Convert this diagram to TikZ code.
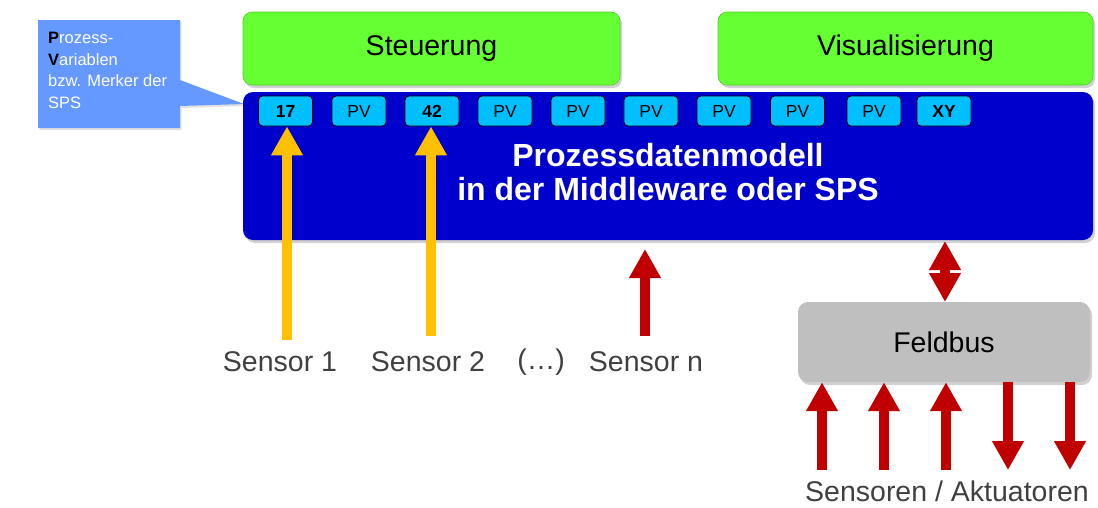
\documentclass[tikz,border=0pt]{standalone}
\usepackage{fontspec}
\setmainfont{Liberation Sans}
\usetikzlibrary{arrows.meta,shadows}
\definecolor{cgreen}{HTML}{66FF33}
\definecolor{cblue}{HTML}{0000CC}
\definecolor{ccyan}{HTML}{00BFFF}
\definecolor{cgray}{HTML}{BFBFBF}
\definecolor{ccall}{HTML}{6699FF}
\definecolor{cred}{HTML}{C00000}
\definecolor{cyel}{HTML}{FFC000}
\definecolor{ctext}{HTML}{404040}
\tikzset{
  shad/.style={drop shadow={shadow xshift=2pt,shadow yshift=-3pt,opacity=0.3,fill=black!60}},
  greenbox/.style={fill=cgreen,draw=cgreen!80!black,line width=0.6pt,rounded corners=9pt,minimum width=377pt,minimum height=73pt,inner sep=0pt,font=\fontsize{28.5}{30}\selectfont,shad},
  pvbox/.style={fill=ccyan,draw=black,line width=0.8pt,rounded corners=4pt,minimum width=54pt,minimum height=30pt,inner sep=0pt,font=\fontsize{17.5}{18}\selectfont},
  lbl/.style={text=ctext,font=\fontsize{28.5}{30}\selectfont,inner sep=0pt},
  fatarrow/.style={line width=10pt,-{Triangle[width=30pt,length=29pt]}},
  dblarrow/.style={line width=10pt,{Triangle[width=30pt,length=29pt]}-{Triangle[width=30pt,length=29pt]}},
}
\begin{document}
\begin{tikzpicture}[x=1pt,y=-1pt]
\useasboundingbox (0,0) rectangle (1098,507);
% callout
\fill[ccall,drop shadow={shadow xshift=1.5pt,shadow yshift=-2pt,opacity=0.2,fill=black!60}]
  (38,20) -- (180,20) -- (180,80) -- (244,104) -- (180,106) -- (180,128) -- (38,128) -- cycle;
\node[anchor=north west,align=left,text=white,inner sep=0pt,font=\fontsize{16.5}{21.7}\selectfont] (callout) at (48,32)
  {\textcolor{black}{\textbf{P}}rozess-\\\textcolor{black}{\textbf{V}}ariablen\\bzw. Merker der\\SPS};
% green boxes
\node[greenbox] (steu) at (431.5,48.5) {Steuerung};
\node[greenbox,minimum width=375pt] (visu) at (905.5,48.5) {Visualisierung};
% model box
\node[fill=cblue,rounded corners=10pt,minimum width=850pt,minimum height=148pt,inner sep=0pt,shad] (model) at (668,166) {};
\node[text=white,align=center,font=\bfseries\fontsize{32}{34}\selectfont,inner sep=0pt] (mtext) at (668,172)
  {Prozessdatenmodell\\in der Middleware oder SPS};
% PV boxes
\node[pvbox,font=\bfseries\fontsize{17.5}{18}\selectfont] (p1) at (285.5,111) {17};
\node[pvbox] (p2) at (359,111) {PV};
\node[pvbox,font=\bfseries\fontsize{17.5}{18}\selectfont] (p3) at (432,111) {42};
\node[pvbox] (p4) at (505,111) {PV};
\node[pvbox] (p5) at (578,111) {PV};
\node[pvbox] (p6) at (651,111) {PV};
\node[pvbox] (p7) at (724,111) {PV};
\node[pvbox] (p8) at (797.5,111) {PV};
\node[pvbox] (p9) at (874,111) {PV};
\node[pvbox,font=\bfseries\fontsize{17.5}{18}\selectfont] (p10) at (944,111) {XY};
% feldbus
\node[fill=cgray,rounded corners=10pt,minimum width=292pt,minimum height=80pt,inner sep=0pt,font=\fontsize{28.5}{30}\selectfont,shad] (feld) at (944,342) {Feldbus};
% sensor labels
\node[lbl] (s1) at (280,362) {Sensor 1};
\node[lbl] (s2) at (428,362) {Sensor 2};
\node[lbl] (dots) at (541,362) {(…)};
\node[lbl] (sn) at (646,362) {Sensor n};
\node[lbl] (sa) at (947,491) {Sensoren / Aktuatoren};
% coordinates for arrows
\coordinate (a1s) at (287,340);
\coordinate (a2s) at (431,336);
\coordinate (ans) at (645,336);
\coordinate (ane) at (645,249);
\coordinate (b1) at (822,470);
\coordinate (b2) at (884,470);
\coordinate (b3) at (946,470);
\coordinate (b4) at (1008,470);
\coordinate (b5) at (1070,470);
% arrows
\draw[fatarrow,cyel] (a1s) -- (a1s |- p1.south);
\draw[fatarrow,cyel] (a2s) -- (a2s |- p3.south);
\draw[fatarrow,cred] (ans) -- (ane);
\draw[dblarrow,cred] (945,241) -- (945,302);
\draw[fatarrow,cred] (b1) -- (b1 |- feld.south);
\draw[fatarrow,cred] (b2) -- (b2 |- feld.south);
\draw[fatarrow,cred] (b3) -- (b3 |- feld.south);
\draw[fatarrow,cred] (b4 |- feld.south) -- (b4);
\draw[fatarrow,cred] (b5 |- feld.south) -- (b5);
\end{tikzpicture}
\end{document}
